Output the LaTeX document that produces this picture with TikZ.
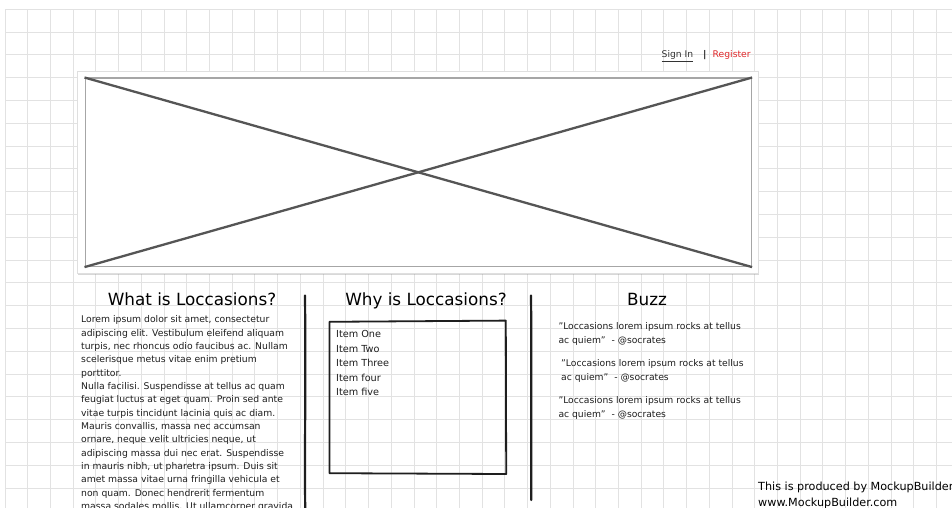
\documentclass[tikz,border=0pt]{standalone}
\usepackage{fontspec}
\setmainfont{DejaVu Sans}
\usetikzlibrary{shadows}
\definecolor{gridc}{HTML}{E2E2E2}
\definecolor{xline}{HTML}{555555}
\definecolor{ink}{HTML}{1E1E1E}
\definecolor{regred}{HTML}{E0282A}
\definecolor{linkc}{HTML}{333333}
\newcommand{\dq}{\char34\relax}
\begin{document}
\begin{tikzpicture}[x=1pt,y=-1pt,
  gridline/.style={draw=gridc,line width=0.9pt},
  frame/.style={fill=white,draw=gray!25,line width=0.6pt,drop shadow={shadow xshift=1.5pt,shadow yshift=-2pt,opacity=0.3},inner sep=0pt,anchor=north west},
  picbox/.style={fill=white,draw=gray!70,line width=1.6pt,inner sep=0pt,anchor=north west},
  xl/.style={draw=xline,line width=2.3pt},
  head/.style={text=black,font=\fontsize{16.8}{20}\selectfont,anchor=base,inner sep=0pt},
  body/.style={text=ink,font=\fontsize{9.25}{12}\selectfont,anchor=base west,inner sep=0pt},
  item/.style={text=ink,font=\fontsize{9.7}{12}\selectfont,anchor=base west,inner sep=0pt},
  buzz/.style={text=ink,font=\fontsize{9.2}{11}\selectfont,anchor=base west,inner sep=0pt},
  foot/.style={text=black,font=\fontsize{11.2}{14}\selectfont,anchor=base west,inner sep=0pt},
  link/.style={font=\fontsize{9.2}{10}\selectfont,anchor=base west,inner sep=0pt},
  sep/.style={draw=ink,line width=2.2pt,line cap=round},
  hbox/.style={draw=ink,line width=1.8pt,line join=round}]
\useasboundingbox (0,0) rectangle (952,508);
\fill[white] (0,0) rectangle (952,508);
% grid
\foreach \i in {0,...,41} \draw[gridline] ({5+22.72*\i},9.3) -- ({5+22.72*\i},508);
\foreach \j in {0,...,21} \draw[gridline] (5,{9.3+22.8*\j}) -- (952,{9.3+22.8*\j});
% sign in / register
\node[link,text=linkc] (signin) at (661.5,57.5) {\underline{Sign In}};
\node[link,text=ink] (bar) at (703,57.5) {\textbf{|}};
\node[link,text=regred] (register) at (712.5,57.5) {Register};
% image placeholder
\node[frame,minimum width=681pt,minimum height=202pt] (frame) at (76.5,71) {};
\node[picbox,minimum width=666pt,minimum height=188pt] (pic) at (84.5,77.5) {};
\draw[xl] (pic.north west) -- (pic.south east);
\draw[xl] (pic.south west) -- (pic.north east);
% headings
\node[head] (h1) at (192,305.5) {What is Loccasions?};
\node[head] (h2) at (426,305.5) {Why is Loccasions?};
\node[head] (h3) at (647,305.5) {Buzz};
% separators
\draw[sep] (305,295.5) .. controls (305.8,380) and (304.6,450) .. (305.2,508);
\draw[sep] (531,295.5) .. controls (531.8,370) and (530.8,440) .. (531.3,500);
% body text
\foreach \t [count=\k from 0] in {
 {Lorem ipsum dolor sit amet, consectetur},
 {adipiscing elit. Vestibulum eleifend aliquam},
 {turpis, nec rhoncus odio faucibus ac. Nullam},
 {scelerisque metus vitae enim pretium},
 {porttitor.},
 {Nulla facilisi. Suspendisse at tellus ac quam},
 {feugiat luctus at eget quam. Proin sed ante},
 {vitae turpis tincidunt lacinia quis ac diam.},
 {Mauris convallis, massa nec accumsan},
 {ornare, neque velit ultricies neque, ut},
 {adipiscing massa dui nec erat. Suspendisse},
 {in mauris nibh, ut pharetra ipsum. Duis sit},
 {amet massa vitae urna fringilla vehicula et},
 {non quam. Donec hendrerit fermentum},
 {massa sodales mollis. Ut ullamcorper gravida}}
 \node[body] (w\k) at (81,{322.7+13.35*\k}) {\t};
% why box
\draw[hbox] (329.5,321.8) -- (505.8,320.6) -- (506.2,474) -- (329.4,473.2) -- cycle;
\foreach \t [count=\k from 0] in {Item One,Item Two,Item Three,Item four,Item five}
 \node[item] (it\k) at (336,{337.5+14.6*\k}) {\t};
% buzz
\node[buzz] (b1a) at (558.3,329) {\dq Loccasions lorem ipsum rocks at tellus};
\node[buzz] (b1b) at (558.3,343.3) {ac quiem\dq~~- @socrates};
\node[buzz] (b2a) at (561,366.7) {\dq Loccasions lorem ipsum rocks at tellus};
\node[buzz] (b2b) at (561,380.7) {ac quiem\dq~~- @socrates};
\node[buzz] (b3a) at (558.3,403.3) {\dq Loccasions lorem ipsum rocks at tellus};
\node[buzz] (b3b) at (558.3,417.3) {ac quiem\dq~~- @socrates};
% footer
\node[foot] (f1) at (758,490) {This is produced by MockupBuilder};
\node[foot] (f2) at (758,506.5) {www.MockupBuilder.com};
\end{tikzpicture}
\end{document}
